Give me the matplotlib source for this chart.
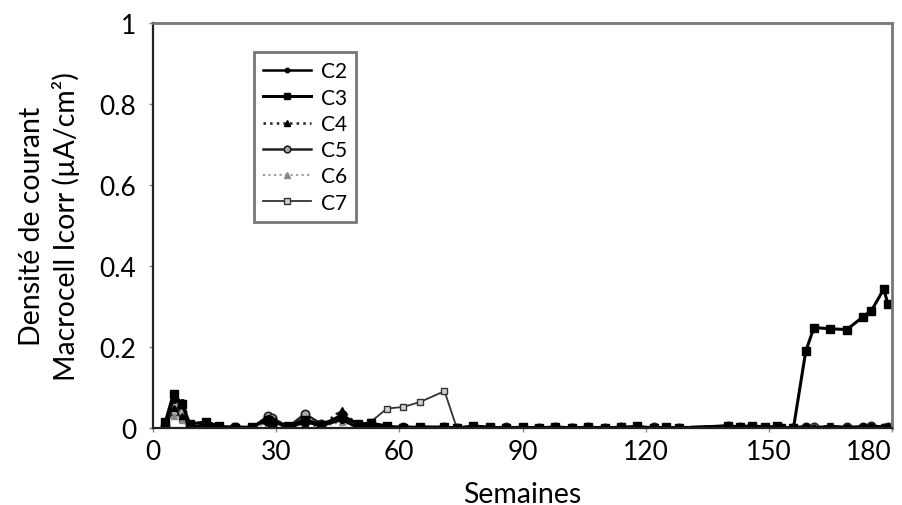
import numpy as np
import matplotlib.pyplot as plt

plt.rcParams['font.family'] = ['Lato', 'DejaVu Sans']

# semaines de mesure
semaines = [3, 5, 7, 9, 13, 16, 20, 24, 28, 29, 33, 37, 41, 46, 50, 53, 57, 61, 65, 71,
            74, 78, 82, 86, 90, 94, 98, 102, 106, 110, 114, 118, 122, 125, 128, 140, 143, 146, 149, 152,
            153, 156, 159, 161, 165, 169, 173, 175, 178, 179]

c2 = [0.010, 0.070, 0.065, 0.000, 0.010, 0.000, 0.005, 0.000, 0.025, 0.020, 0.000, 0.015, 0.005, 0.020, 0.000, 0.010, 0.000, 0.005, 0.000, 0.003,
      0.000, 0.004, 0.000, 0.002, 0.000, 0.003, 0.000, 0.002, 0.000, 0.003, 0.000, 0.002, 0.000, 0.003, 0.000, 0.004, 0.002, 0.005, 0.001, 0.003,
      0.000, 0.002, 0.004, 0.001, 0.005, 0.002, 0.004, 0.006, 0.003, 0.002]
c3 = [0.015, 0.085, 0.060, 0.010, 0.015, 0.005, 0.000, 0.003, 0.020, 0.015, 0.005, 0.020, 0.008, 0.030, 0.010, 0.012, 0.005, 0.000, 0.003, 0.002,
      0.000, 0.005, 0.002, 0.000, 0.002, 0.000, 0.003, 0.000, 0.002, 0.000, 0.002, 0.004, 0.000, 0.002, 0.000, 0.005, 0.003, 0.006, 0.002, 0.004,
      0.000, 0.000, 0.190, 0.248, 0.245, 0.243, 0.275, 0.290, 0.343, 0.306]
c4 = [0.000, 0.050, 0.030, 0.005, 0.000, 0.003, 0.000, 0.002, 0.015, 0.010, 0.002, 0.010, 0.005, 0.045, 0.005, 0.008, 0.002, 0.000, 0.002, 0.000,
      0.002, 0.000, 0.003, 0.001, 0.000, 0.002, 0.001, 0.000, 0.002, 0.001, 0.000, 0.002, 0.001, 0.000, 0.002, 0.003, 0.001, 0.004, 0.002, 0.000,
      0.002, 0.001, 0.003, 0.002, 0.004, 0.001, 0.003, 0.005, 0.002, 0.004]
c5 = [0.005, 0.060, 0.040, 0.002, 0.008, 0.000, 0.003, 0.000, 0.030, 0.025, 0.003, 0.035, 0.010, 0.025, 0.002, 0.006, 0.000, 0.002, 0.000, 0.002,
      0.000, 0.002, 0.000, 0.003, 0.000, 0.001, 0.002, 0.000, 0.003, 0.000, 0.002, 0.000, 0.003, 0.000, 0.001, 0.006, 0.002, 0.003, 0.000, 0.002,
      0.001, 0.000, 0.002, 0.003, 0.001, 0.003, 0.002, 0.004, 0.001, 0.002]
c6 = [0.002, 0.030, 0.020, 0.000, 0.005, 0.002, 0.000, 0.002, 0.010, 0.008, 0.000, 0.012, 0.003, 0.015, 0.000, 0.004, 0.001, 0.000, 0.002, 0.000,
      0.001, 0.000, 0.002, 0.000, 0.001, 0.000, 0.002, 0.001, 0.000, 0.002, 0.001, 0.000, 0.002, 0.001, 0.000, 0.002, 0.000, 0.003, 0.001, 0.002,
      0.000, 0.001, 0.002, 0.000, 0.003, 0.001, 0.002, 0.003, 0.001, 0.002]
c7 = [0.008, 0.040, 0.025, 0.003, 0.010, 0.002, 0.004, 0.001, 0.020, 0.012, 0.004, 0.025, 0.006, 0.035, 0.008, 0.015, 0.048, 0.052, 0.064, 0.091,
      0.000, 0.003, 0.001, 0.000, 0.002, 0.001, 0.000, 0.003, 0.001, 0.000, 0.002, 0.001, 0.000, 0.002, 0.001, 0.004, 0.002, 0.003, 0.001, 0.003,
      0.001, 0.002, 0.003, 0.001, 0.004, 0.002, 0.003, 0.004, 0.002, 0.003]

fig = plt.figure(figsize=(9.02, 5.06), dpi=100)
ax = fig.add_axes([153/902, 1-429/506, 739/902, 405/506])

ax.plot(semaines, c7, '-', color='#333333', lw=1.3, marker='s', ms=5, mfc='#d0d0d0', mec='#333333', mew=1, label='C7')
ax.plot(semaines, c6, ':', color='#999999', lw=1.5, marker='^', ms=5, mfc='#888888', mec='#888888', label='C6')
ax.plot(semaines, c5, '-', color='#222222', lw=1.8, marker='o', ms=6, mfc='#aaaaaa', mec='#222222', mew=1.2, label='C5')
ax.plot(semaines, c4, ':', color='#222222', lw=1.8, marker='^', ms=5, mfc='black', mec='black', label='C4')
ax.plot(semaines, c3, '-', color='black', lw=2.2, marker='s', ms=6, mfc='black', mec='black', label='C3')
ax.plot(semaines, c2, '-', color='black', lw=1.8, marker='o', ms=4, mfc='black', mec='black', label='C2')

ax.set_xlim(0, 180)
ax.set_ylim(0, 1)
ax.set_xticks(np.arange(0, 181, 30))
ax.set_yticks([0, 0.2, 0.4, 0.6, 0.8, 1])
ax.set_yticklabels(['0', '0.2', '0.4', '0.6', '0.8', '1'])
ax.tick_params(axis='both', labelsize=19, length=3, width=1, color='#888888', direction='out')
ax.tick_params(axis='y', pad=9)
ax.tick_params(axis='x', pad=5)
# le dernier libellé reste dans le cadre
ax.get_xticklabels()[-1].set_ha('right')

for s in ['left', 'bottom']:
    ax.spines[s].set_color('#222222')
    ax.spines[s].set_linewidth(1.6)
for s in ['top', 'right']:
    ax.spines[s].set_color('#777777')
    ax.spines[s].set_linewidth(2)

ax.set_xlabel('Semaines', fontsize=20.5, labelpad=12)
ax.set_ylabel('Densité de courant\nMacrocell Icorr (µA/cm²)', fontsize=20.5, labelpad=14, linespacing=1.3)

handles, labels = ax.get_legend_handles_labels()
leg = ax.legend(handles[::-1], labels[::-1], loc='upper left',
                bbox_to_anchor=(254/902, 1-53/506), bbox_transform=fig.transFigure,
                borderaxespad=0, fontsize=15, handlelength=2.3, handletextpad=0.45,
                labelspacing=0.3, borderpad=0.45, fancybox=False, markerscale=0.8)
leg.get_frame().set_edgecolor('#555555')
leg.get_frame().set_linewidth(2)

fig.savefig('out.png', dpi=100)
